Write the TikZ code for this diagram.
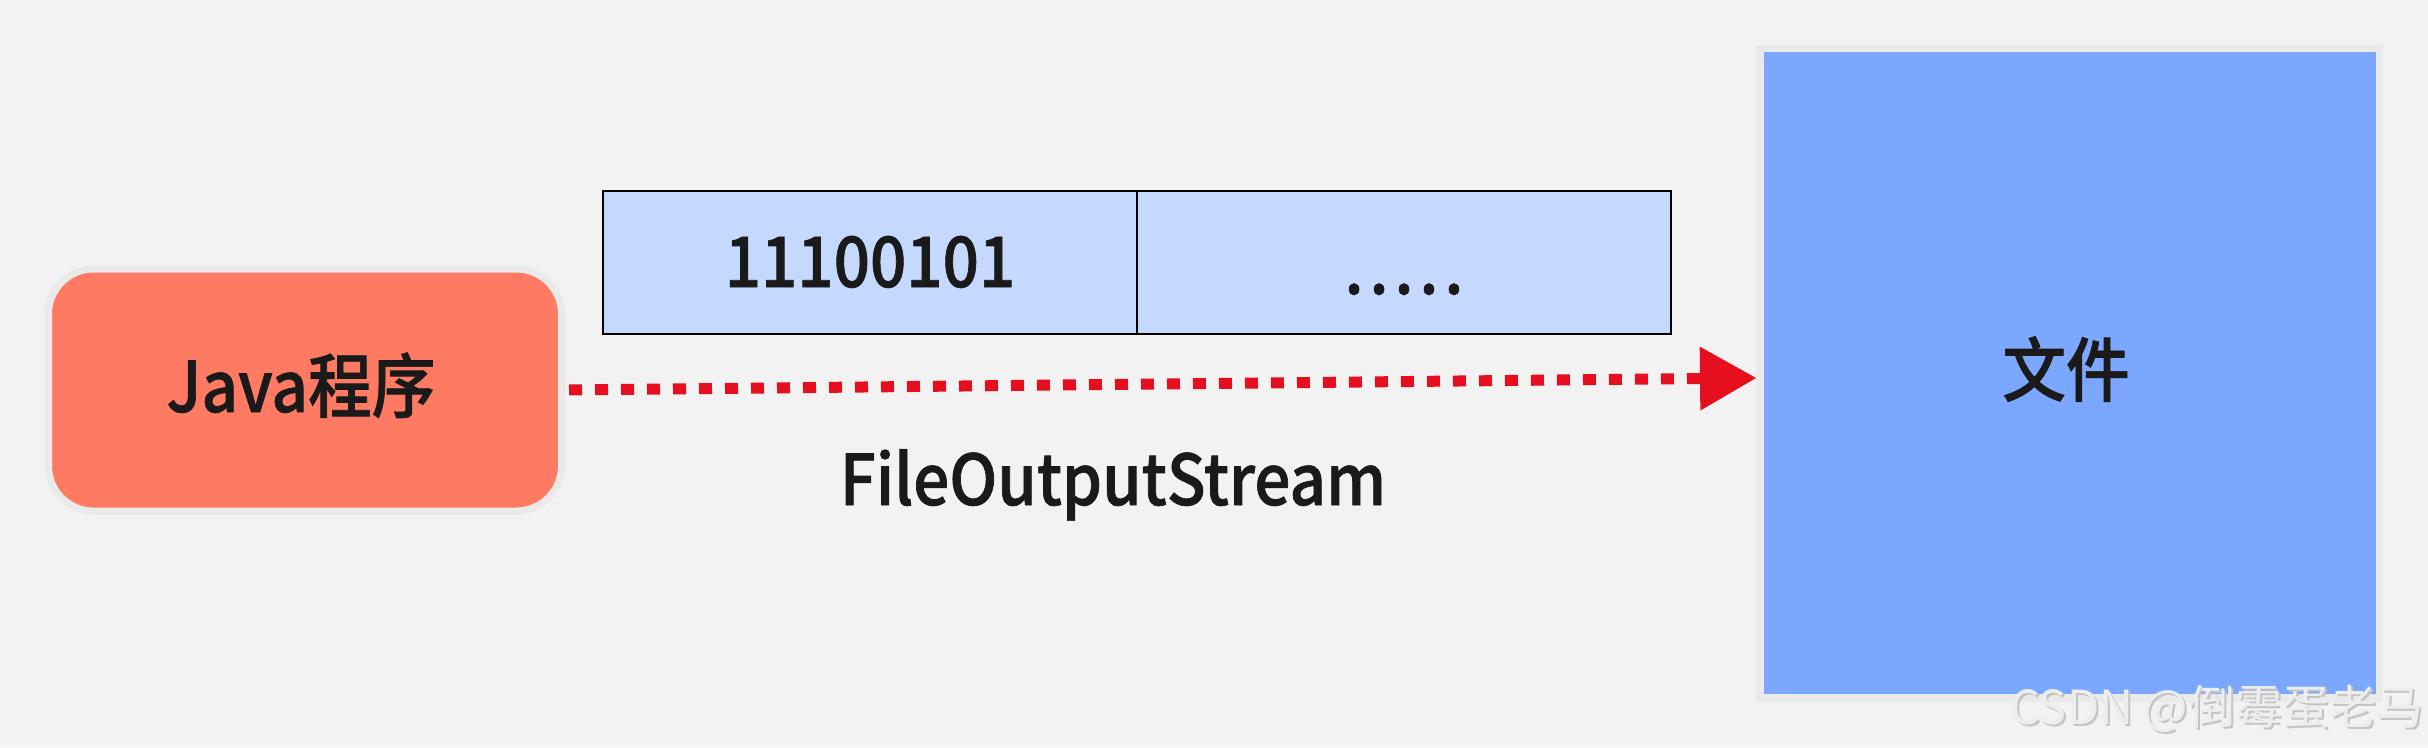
\documentclass[tikz,border=0pt]{standalone}
\usepackage{fontspec}
\setmainfont{Noto Sans CJK SC}
\newfontfamily\medfont{Noto Sans CJK SC Medium}[FakeStretch=0.91, FakeBold=1]
\usetikzlibrary{arrows.meta}
\definecolor{bg}{HTML}{F2F2F2}
\definecolor{rim}{HTML}{EAEAEA}
\definecolor{salmon}{HTML}{FF7A62}
\definecolor{bytefill}{HTML}{C5D9FF}
\definecolor{filefill}{HTML}{7BA7FF}
\definecolor{arrowred}{HTML}{E50F1F}
\definecolor{ink}{HTML}{1A1A1A}
\definecolor{wmshadow}{HTML}{C4C4C4}
\definecolor{wmfill}{HTML}{EDEDED}
\tikzset{
  bigtext/.style={font=\medfont\fontsize{70}{80}\selectfont, text=ink},
  javabox/.style={bigtext, fill=salmon, draw=rim, line width=7pt, rounded corners=45pt,
    minimum width=513pt, minimum height=242pt, inner sep=0pt},
  bytebox/.style={bigtext, fill=bytefill, draw=black, line width=2pt,
    minimum width=534pt, minimum height=143pt, inner sep=0pt},
  filebox/.style={bigtext, fill=filefill, draw=rim, line width=7.5pt,
    minimum width=619.5pt, minimum height=649.5pt, inner sep=0pt},
  flow/.style={draw=arrowred, line width=11pt, dash pattern=on 13pt off 13pt,
    -{Triangle[length=56pt, width=64pt, line width=0pt]}},
  wm/.style={font=\fontsize{47}{56}\selectfont, inner sep=0pt, anchor=base west}
}
\begin{document}
\begin{tikzpicture}[x=1pt, y=-1pt]
\useasboundingbox (0,0) rectangle (2428,747);
\fill[bg] (0,0) rectangle (2428,747);
\node[javabox] (java) at (305,390) {};
\node[bigtext, anchor=base, inner sep=0pt] (javatext) at (301,412) {Java程序};
\node[bytebox] (byte1) at (870,262.5) {};
\node[bytebox] (byte2) at (1404,262.5) {};
\node[bigtext, anchor=base, inner sep=0pt] (b1text) at (870,287) {11100101};
\node[bigtext, anchor=base, inner sep=0pt] (b2text) at (1404,294) {.\kern6pt.\kern6pt.\kern6pt.\kern6pt.};
\node[filebox] (file) at (2069.75,373.25) {};
\node[bigtext, anchor=base, inner sep=0pt] (filetext) at (2066,396) {文件};
\coordinate (tip) at (1756,378);
\draw[flow, shorten <=4pt] (java.east) -- (tip);
\node[bigtext, anchor=base, inner sep=0pt] (label) at (1113,505) {FileOutputStream};
\node[wm, text=wmshadow] (wmshade) at (2012,726) {CSDN @倒霉蛋老马};
\node[wm, text=wmfill] (wmark) at (2010,724) {CSDN @倒霉蛋老马};
\end{tikzpicture}
\end{document}
